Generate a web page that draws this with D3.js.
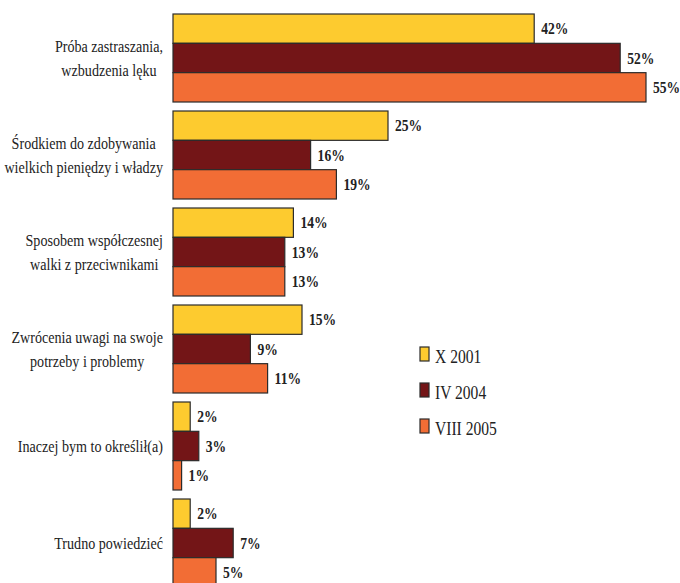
<!DOCTYPE html>
<html>
<head>
<meta charset="utf-8">
<script src="https://cdn.jsdelivr.net/npm/d3@7"></script>
<style>
  body { margin: 0; background: #fff; }
</style>
</head>
<body>
<svg id="chart" width="680" height="583" font-family="'Liberation Serif', 'DejaVu Serif', serif"></svg>
<script>
// categories (each label split into its printed lines)
const categories = [
  ["Próba zastraszania,", "wzbudzenia lęku"],
  ["Środkiem do zdobywania", "wielkich pieniędzy i władzy"],
  ["Sposobem współczesnej", "walki z przeciwnikami"],
  ["Zwrócenia uwagi na swoje", "potrzeby i problemy"],
  ["Inaczej bym to określił(a)"],
  ["Trudno powiedzieć"]
];
const series = ["X 2001", "IV 2004", "VIII 2005"];
const colors = ["#fdcb2f", "#731517", "#f26d35"];

// percent values per series, same order as categories
const x2001 = [42, 25, 14, 15, 2, 2];
const iv2004 = [52, 16, 13, 9, 3, 7];
const viii2005 = [55, 19, 13, 11, 1, 5];
const values = [x2001, iv2004, viii2005];

const svg = d3.select("#chart");
const left = 173;
const labelRight = 163;

const x = d3.scaleLinear().domain([0, 55]).range([left, left + 55 * 8.6]);

const y0 = d3.scaleBand()
  .domain(d3.range(categories.length))
  .range([14, 14 + 97 * 6 - 9])
  .paddingInner(9 / 97)
  .paddingOuter(0);

const y1 = d3.scaleBand()
  .domain(d3.range(series.length))
  .range([0, y0.bandwidth()]);

// bars
const groups = svg.append("g")
  .selectAll("g")
  .data(categories)
  .join("g")
  .attr("transform", (d, i) => `translate(0,${y0(i)})`);

groups.each(function (cat, ci) {
  const g = d3.select(this);
  series.forEach((s, si) => {
    const v = values[si][ci];
    g.append("rect")
      .attr("x", x(0))
      .attr("y", y1(si))
      .attr("width", x(v) - x(0))
      .attr("height", y1.bandwidth())
      .attr("fill", colors[si])
      .attr("stroke", "#2b2b2b")
      .attr("stroke-width", 1.2);
    g.append("text")
      .attr("transform", `translate(${x(v) + 7},${y1(si) + y1.bandwidth() / 2 + 5.5}) scale(0.85,1)`)
      .attr("font-size", 16)
      .attr("font-weight", "bold")
      .attr("fill", "#222")
      .text(v + "%");
  });
});

// category labels: lines centred inside a box whose right edge is fixed
const labelScale = 0.83;
groups.each(function (lines, ci) {
  const g = d3.select(this);
  const mid = y0.bandwidth() / 2;
  const texts = lines.map((line, li) => {
    const dy = lines.length === 1 ? 0 : (li === 0 ? -12 : 12);
    return g.append("text")
      .attr("font-size", 17)
      .attr("fill", "#222")
      .attr("text-anchor", "middle")
      .attr("data-y", mid + dy + 5.5)
      .text(line);
  });
  const maxW = d3.max(texts, t => t.node().getComputedTextLength()) * labelScale;
  const cx = labelRight - maxW / 2;
  texts.forEach(t => t.attr("transform", `translate(${cx},${t.attr("data-y")}) scale(${labelScale},1)`));
});

// legend
const legend = svg.append("g")
  .selectAll("g")
  .data(series)
  .join("g")
  .attr("transform", (d, i) => `translate(420,${347 + i * 36})`);

legend.append("rect")
  .attr("width", 9)
  .attr("height", 14)
  .attr("fill", (d, i) => colors[i])
  .attr("stroke", "#2b2b2b")
  .attr("stroke-width", 1.2);

legend.append("text")
  .attr("transform", "translate(15,16) scale(0.82,1)")
  .attr("font-size", 19)
  .attr("fill", "#222")
  .text(d => d);
</script>
</body>
</html>
